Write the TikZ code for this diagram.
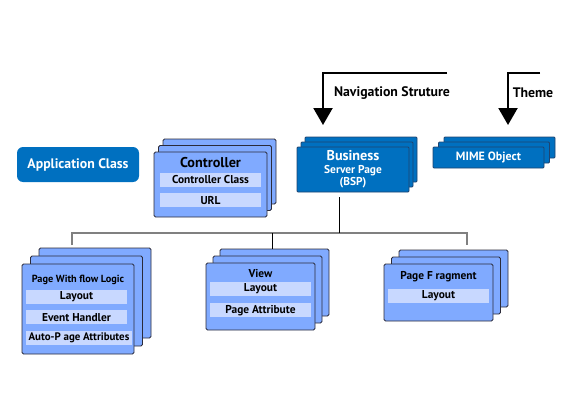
\documentclass[tikz,border=0pt]{standalone}
\usepackage{fontspec}
\setmainfont{PT Sans}
\usetikzlibrary{arrows.meta,positioning,shadows}
\definecolor{BspBlue}{HTML}{0070C0}
\definecolor{BspEdge}{HTML}{1F4470}
\definecolor{PageBlue}{HTML}{80AAFF}
\definecolor{PageStrip}{HTML}{C8D8FF}
\definecolor{PageEdge}{HTML}{2B2B3A}
\definecolor{TreeGray}{HTML}{808080}

\begin{document}
\begin{tikzpicture}[x=1pt,y=-1pt,node distance=6pt,>=Latex,font=\bfseries]
        \tikzset{
          pagestack/.style 2 args={
            draw=PageEdge,
            fill=PageBlue,
            line width=0.9pt,
            rounded corners=1.5pt,
            inner sep=0pt,
            double copy shadow={shadow xshift=#1,shadow yshift=#2}
          },
          bspstack/.style 2 args={
            draw=BspEdge,
            fill=BspBlue,
            text=white,
            line width=0.8pt,
            rounded corners=1pt,
            inner sep=0pt,
            double copy shadow={shadow xshift=#1,shadow yshift=#2}
          },
          pagestrip/.style={
            fill=PageStrip,
            minimum width=101pt,
            minimum height=14pt,
            inner sep=0pt,
            font=\bfseries\fontsize{11.4}{13}\selectfont
          },
          stacktitle/.style={
            inner sep=0pt,
            font=\bfseries\fontsize{11.4}{13}\selectfont
          },
          flowarrow/.style={
            line width=2.2pt,
            -{Triangle[width=19pt,length=17pt]}
          },
          treeline/.style={draw=black,line width=1pt},
          treegray/.style={draw=TreeGray,line width=1.3pt}
        }
        \useasboundingbox (0,0) rectangle (570,420);
        % top row
        \node[fill=BspBlue,text=white,rounded corners=6pt,minimum width=122pt,
              minimum height=35pt,font=\bfseries\fontsize{13.8}{16}\selectfont]
              (appcls) at (78,164.5) {Application Class};
        \node[pagestack={4.5pt}{6.5pt},minimum width=113pt,minimum height=65pt]
              (ctrl) at (210.5,184.5) {};
        \node[stacktitle,font=\bfseries\fontsize{14.2}{16}\selectfont]
              (ctrltitle) at (210.5,163) {Controller};
        \node[pagestrip] (ctrlclass) at (210.5,180) {Controller Class};
        \node[pagestrip,below=of ctrlclass] (ctrlurl) {URL};
        \node[bspstack={4pt}{5pt},minimum width=112pt,minimum height=45pt,align=center,
              font=\bfseries\fontsize{11.4}{12.5}\selectfont]
              (bsp) at (353,169.5) {{\fontsize{14.2}{14}\selectfont Business}\\Server Page\\(BSP)};
        \node[bspstack={5.5pt}{5pt},minimum width=111pt,minimum height=21pt,
              font=\bfseries\fontsize{12}{14}\selectfont]
              (mime) at (488.5,157.5) {MIME Object};
        % incoming arrows
        \coordinate (navfrom) at (447,73);
        \coordinate (navto) at (323,125);
        \coordinate (themefrom) at (540,73);
        \coordinate (themeto) at (508,125);
        \draw[flowarrow] (navfrom) -| (navto);
        \draw[flowarrow] (themefrom) -| (themeto);
        \node[font=\bfseries\fontsize{13.8}{16}\selectfont] (navlabel) at (392,93) {Navigation Struture};
        \node[font=\bfseries\fontsize{13.8}{16}\selectfont] (themelabel) at (533,93) {Theme};
        % bottom row
        \node[pagestack={8.5pt}{8pt},minimum width=112pt,minimum height=90pt]
              (flow) at (78,309) {};
        \node[stacktitle,font=\bfseries\fontsize{10.3}{12}\selectfont]
              (flowtitle) at (78,280) {Page With flow Logic};
        \node[pagestrip] (flowlayout) at (76.5,297) {Layout};
        \node[pagestrip,below=of flowlayout] (flowevent) {Event Handler};
        \node[pagestrip,below=of flowevent,xshift=2.5pt,minimum width=106pt,
              font=\bfseries\fontsize{10.9}{12}\selectfont] (flowattr) {Auto-P age Attributes};
        \node[pagestack={7pt}{7pt},minimum width=109pt,minimum height=67pt]
              (view) at (260.5,296.5) {};
        \node[stacktitle] (viewtitle) at (260.5,274) {View};
        \node[pagestrip] (viewlayout) at (260.5,289) {Layout};
        \node[pagestrip,below=7pt of viewlayout] (viewattr) {Page Attribute};
        \node[pagestack={7.5pt}{7pt},minimum width=109pt,minimum height=57pt]
              (frag) at (438.5,292.5) {};
        \node[stacktitle] (fragtitle) at (438.5,277) {Page F ragment};
        \node[pagestrip] (fraglayout) at (438.5,296) {Layout};
        % tree
        \coordinate (bar) at (339,233);
        \coordinate (flowtop) at (72,245);
        \coordinate (viewtop) at (272,249);
        \coordinate (fragtop) at (467,245);
        \draw[treegray] (flowtop) |- (bar) -| (fragtop);
        \draw[treeline,shorten <=5pt] (bar |- bsp.south) -- (bar);
        \draw[treeline] (viewtop) -- (viewtop |- bar);
      \end{tikzpicture}
\end{document}
